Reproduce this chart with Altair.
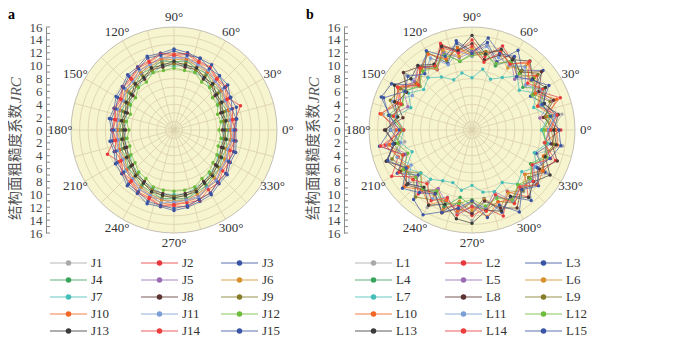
import altair as alt
import pandas as pd

ANGLES = list(range(0, 360, 10))

J1 = [8.3,8.7,8.6,9.0,9.2,9.9,10.0,10.8,10.8,11.2,10.7,10.7,10.0,9.8,9.1,9.0,8.5,8.7,8.3,8.7,8.6,9.1,9.2,9.9,10.0,10.7,10.8,11.1,10.8,10.7,10.0,9.8,9.2,9.0,8.6,8.7]
J2 = [9.3,9.7,11.0,9.8,10.5,10.5,11.3,11.4,12.1,11.8,12.1,11.4,11.3,10.5,10.4,9.7,9.9,9.4,9.6,9.5,11.0,9.8,10.5,10.6,11.3,11.4,12.0,11.8,12.1,11.4,11.3,10.5,10.5,9.7,9.8,9.4]
J3 = [9.6,9.9,10.3,10.1,10.9,11.0,11.7,11.8,12.2,12.6,12.1,12.2,11.3,11.2,10.5,10.4,9.9,10.2,9.7,10.1,9.9,10.5,10.6,11.3,11.4,12.2,12.1,12.5,12.2,11.8,11.6,10.9,10.8,10.1,10.2,9.8]
J4 = [8.5,8.2,8.7,8.5,9.3,9.3,10.1,10.2,10.9,10.6,10.9,10.2,10.1,9.3,9.3,8.5,8.7,8.2,8.5,8.3,8.7,8.6,9.2,9.4,10.0,10.3,10.8,10.7,10.8,10.3,10.0,9.4,9.2,8.6,8.6,8.3]
J5 = [8.7,9.1,8.9,9.3,9.5,10.1,10.3,11.0,11.1,11.4,11.1,11.0,10.2,10.1,9.5,9.4,8.9,9.0,8.7,9.0,8.9,9.3,9.5,10.2,10.3,11.0,11.0,11.4,11.0,11.0,10.3,10.1,9.5,9.3,8.9,9.0]
J6 = [8.8,8.5,9.0,8.9,9.6,9.6,10.4,10.5,11.2,10.9,11.2,10.5,10.4,9.6,9.6,8.8,9.0,8.5,8.8,8.6,9.0,8.8,9.6,9.7,10.3,10.6,11.1,11.0,11.1,10.6,10.3,9.7,9.3,9.1,8.6,8.9]
J7 = [7.8,7.5,8.0,7.8,8.6,8.6,9.4,9.5,10.2,9.9,10.2,9.5,9.4,8.6,8.6,7.8,8.0,7.5,7.8,7.6,8.0,7.9,8.5,8.7,9.3,9.6,10.1,10.0,10.1,9.6,9.3,8.7,8.5,7.9,7.9,7.6]
J8 = [7.5,7.9,7.7,8.3,8.3,9.1,9.1,10.0,9.9,10.4,9.9,10.0,9.1,9.1,8.3,8.3,7.7,8.0,7.5,7.9,7.8,8.2,8.4,9.0,9.2,9.9,10.0,10.3,10.0,9.9,9.2,9.0,8.4,8.2,7.8,7.9]
J9 = [8.1,7.8,8.3,8.1,8.9,8.9,9.7,9.8,10.5,10.2,10.5,9.8,9.7,8.9,8.9,8.1,8.3,7.8,8.1,7.9,8.3,8.2,8.8,9.0,9.6,9.9,10.4,10.3,10.4,9.9,9.6,9.0,8.8,8.2,8.2,7.9]
J10 = [8.8,9.3,9.1,9.5,9.7,10.4,10.5,11.2,11.3,11.7,11.3,11.0,10.7,10.1,9.9,9.3,9.3,9.0,8.9,9.2,9.1,9.6,9.7,10.3,10.7,11.0,11.5,11.6,11.3,11.2,10.4,10.3,9.7,9.5,9.1,9.2]
J11 = [9.1,8.8,9.3,9.1,9.9,9.9,10.7,10.8,11.5,11.2,11.5,10.8,10.7,9.9,9.9,9.1,9.3,8.8,9.1,8.8,9.3,9.1,9.9,9.9,10.7,10.8,11.5,11.2,11.1,11.2,10.3,10.3,9.5,9.5,8.9,9.2]
J12 = [7.0,7.4,7.2,7.8,7.8,8.6,8.6,9.5,9.4,9.6,9.4,9.5,8.6,8.6,7.8,7.8,7.2,7.5,7.0,7.4,7.3,7.7,7.9,8.5,8.7,9.4,9.5,9.5,9.5,9.4,8.7,8.5,7.9,7.7,7.3,7.4]
J13 = [7.8,8.2,8.0,8.6,8.6,9.4,9.4,10.3,10.2,10.7,10.2,10.3,9.4,9.4,8.6,8.6,8.0,8.3,7.8,8.2,8.1,8.5,8.7,9.3,9.5,10.2,10.3,10.6,10.3,10.2,9.5,9.3,8.7,8.5,8.1,8.2]
J14 = [9.5,9.2,9.7,9.5,10.3,10.3,11.1,11.2,11.9,11.6,11.9,11.2,11.1,10.3,10.3,9.5,9.7,9.2,9.5,9.2,9.7,9.5,10.3,10.3,11.1,11.2,11.9,11.6,11.5,11.6,10.7,10.7,9.9,9.9,9.3,9.6]
J15 = [9.4,9.8,9.6,10.2,10.3,11.0,11.0,11.9,11.8,12.3,11.8,11.9,11.0,10.9,10.2,10.1,9.6,9.9,9.4,9.8,9.6,10.2,10.2,11.0,11.1,11.8,11.9,12.2,11.9,11.5,11.3,10.6,10.5,9.8,9.9,9.5]

L1 = [12.5,14.2,11.0,13.1,10.8,12.9,11.5,13.8,10.9,12.4,13.6,11.2,12.8,10.7,13.5,11.9,12.2,14.0,12.0,10.6,13.3,11.4,12.7,10.5,13.9,11.8,12.6,14.1,11.3,13.0,10.9,12.5,11.7,13.6,10.8,14.3]
L2 = [13.8,11.2,14.6,12.0,13.2,10.9,12.4,13.9,11.6,14.0,12.3,13.5,10.8,12.9,11.5,13.4,12.1,14.5,11.0,13.7,12.2,14.4,11.3,13.0,10.6,12.8,11.9,13.3,12.4,14.2,11.1,13.6,10.7,12.7,13.8,11.4]
L3 = [11.8,13.3,12.0,10.5,14.4,12.1,14.3,11.3,13.8,12.2,14.1,11.0,13.9,12.5,10.7,14.4,15.0,13.0,12.7,14.6,11.2,13.4,10.9,14.1,15.2,13.5,11.4,12.9,10.8,13.6,12.0,14.3,11.5,13.1,10.6,12.4]
L4 = [10.9,12.6,11.4,12.9,10.3,11.8,12.7,10.6,12.3,11.9,10.8,12.8,11.3,12.6,10.5,12.1,11.6,13.2,10.7,12.4,11.5,13.0,10.4,12.2,11.1,12.7,10.6,11.8,12.5,10.9,12.8,11.2,12.4,10.5,12.0,11.7]
L5 = [12.0,10.7,13.1,11.6,12.5,10.3,12.2,11.0,13.3,12.1,11.4,12.8,10.9,13.0,11.7,12.3,10.6,12.9,11.8,13.4,10.8,12.1,11.3,12.6,10.5,11.9,12.7,11.1,12.4,10.2,12.8,11.6,13.1,10.9,12.3,11.5]
L6 = [11.5,12.8,10.8,12.2,11.9,13.0,11.1,12.5,10.9,12.7,11.6,13.2,11.0,12.4,10.6,12.9,11.8,12.3,10.7,13.1,11.5,12.6,10.4,12.0,11.7,13.3,11.2,12.5,10.9,12.8,11.3,12.1,10.8,12.6,11.9,13.0]
L7 = [10.8,12.1,10.2,11.5,9.6,10.9,9.4,8.4,9.6,8.1,9.0,8.3,9.5,10.6,9.8,11.4,10.1,12.0,10.6,11.3,9.9,11.8,10.4,10.0,9.1,8.7,9.5,8.6,9.8,10.2,9.4,11.0,10.1,11.6,10.3,11.9]
L8 = [12.9,11.3,13.5,12.0,14.1,11.6,13.0,12.3,11.1,13.4,12.6,14.0,11.5,12.8,13.9,11.7,12.5,10.9,13.6,12.2,14.2,11.8,13.3,12.0,11.4,13.7,12.4,13.0,11.2,12.9,14.0,11.9,13.2,12.1,14.1,12.6]
L9 = [12.3,11.6,12.9,11.1,13.4,12.0,11.7,13.1,12.4,11.9,13.0,11.5,13.8,12.2,11.3,12.8,13.5,11.8,12.6,11.4,13.2,12.1,11.9,13.6,12.5,11.6,12.9,11.2,12.7,11.8,13.1,12.3,11.5,12.8,11.9,13.0]
L10 = [13.1,12.0,14.0,11.4,12.7,13.5,11.9,13.0,12.2,11.5,12.9,11.8,13.6,12.4,11.1,13.2,12.6,14.3,11.7,13.0,12.3,11.5,13.8,12.1,13.4,11.6,12.8,12.0,13.7,11.9,12.5,11.3,13.3,12.7,11.8,13.5]
L11 = [11.9,13.0,11.3,12.4,10.9,12.8,11.6,12.0,13.2,11.4,12.5,10.8,12.9,11.5,12.2,10.7,13.1,11.9,12.6,11.2,12.4,10.9,13.0,11.7,12.3,11.1,13.3,11.8,12.1,11.0,12.7,11.6,12.2,11.3,12.9,11.5]
L12 = [11.2,12.2,11.7,10.8,12.5,11.4,12.3,11.0,12.0,11.6,10.9,12.4,11.3,11.9,10.7,12.1,11.5,12.6,11.0,11.8,10.6,12.3,11.4,11.9,10.9,12.2,11.6,10.8,12.0,11.3,12.5,11.1,11.8,10.7,12.4,11.6]
L13 = [12.7,13.6,11.9,13.2,12.3,14.0,12.6,13.3,12.0,14.7,12.5,13.8,11.8,13.1,12.4,13.9,12.8,11.7,13.4,12.2,14.1,12.9,13.0,11.6,13.5,12.3,14.0,14.5,12.7,13.4,11.9,13.7,12.5,14.0,12.1,13.3]
L14 = [12.2,13.4,10.9,12.7,11.3,13.9,11.8,12.9,10.7,13.0,12.1,14.3,11.5,12.6,10.8,13.3,11.7,12.4,10.6,14.4,11.4,13.1,12.0,10.9,12.7,11.2,13.4,11.9,12.8,10.7,13.2,11.6,12.4,10.8,13.0,11.5]
L15 = [13.5,12.4,11.6,13.8,12.1,10.8,13.2,12.6,14.5,11.9,13.7,12.2,14.2,11.4,13.0,12.0,14.6,13.1,11.3,12.5,13.9,11.8,14.1,12.7,11.5,13.6,12.3,11.0,13.8,12.4,14.7,12.1,13.5,11.7,12.9,14.0]

J_NAMES = ["J1","J2","J3","J4","J5","J6","J7","J8","J9","J10","J11","J12","J13","J14","J15"]
L_NAMES = ["L1","L2","L3","L4","L5","L6","L7","L8","L9","L10","L11","L12","L13","L14","L15"]
J_VALUES = [J1,J2,J3,J4,J5,J6,J7,J8,J9,J10,J11,J12,J13,J14,J15]
L_VALUES = [L1,L2,L3,L4,L5,L6,L7,L8,L9,L10,L11,L12,L13,L14,L15]
COLORS = ["#a9a9a9","#e8383d","#3953a4","#3aa35b","#9b6bb3","#d5922c","#45bdb8","#5c3333",
          "#857c27","#f26522","#7b9ed6","#6dbb3a","#3a3a3a","#ec3c3c","#3a55a3"]

RING_RADII = [1.333,2.667,4.0,5.333,6.667,8.0,9.333,10.667,12.0,13.333,14.667]
SPOKE_ANGLES = list(range(0, 360, 15))
LABEL_ANGLES = list(range(0, 360, 30))
LABEL_TEXT = ["0°","30°","60°","90°","120°","150°","180°","210°","240°","270°","300°","330°"]
Y_LABELS = list(range(-16, 17, 2))
Y_TICKS = list(range(-16, 17))

W = 206
RMAX = 16
AX_OFF = 25
FONT = "Liberation Serif, Times New Roman, serif"
PPU = W / (2 * RMAX)          # pixels per JRC unit
LEG_TOP = 236                 # px below plot top of first legend row
LEG_ROW = 17                  # px between legend rows
LEG_LINE = 37                 # px length of legend line sample


def panel(names, values, letter, leg_cols):
    for v in values:
        assert len(v) == len(ANGLES)
    rows = []
    for n, vals in zip(names, values):
        for a, v in zip(ANGLES, vals):
            rows.append({"series": n, "angle": a, "jrc": v})
    df = pd.DataFrame(rows)

    xs = alt.Scale(domain=[-RMAX, RMAX], nice=False, zero=False)
    ys = alt.Scale(domain=[-RMAX, RMAX], nice=False, zero=False)
    cs = alt.Scale(domain=names, range=COLORS)
    yax = alt.Axis(
        values=Y_LABELS, labelExpr="format(abs(datum.value), 'd')",
        offset=AX_OFF, ticks=False, labelPadding=4, grid=False, title=None,
        domainColor="#8a8a8a", labelColor="#444444",
        labelFont=FONT, labelFontSize=13, labelOverlap=False,
    )

    def X(f):
        return alt.X(f, type="quantitative", scale=xs, axis=None)

    def Y(f):
        return alt.Y(f, type="quantitative", scale=ys, axis=yax)

    circ_expr = f"pow(2*datum.r*{PPU}, 2)"

    bg = alt.Chart(pd.DataFrame({"r": [RMAX]})).transform_calculate(
        cx="0", cy="0", s=circ_expr
    ).mark_point(shape="circle", filled=True, fill="#f7f4d0", stroke="#c4c1b4",
                 strokeWidth=1, opacity=1).encode(
        x=X("cx"), y=Y("cy"), size=alt.Size("s:Q", scale=None, legend=None)
    )

    rings = alt.Chart(pd.DataFrame({"r": RING_RADII})).transform_calculate(
        cx="0", cy="0", s=circ_expr
    ).mark_point(shape="circle", filled=False, stroke="#dbd1ab", strokeWidth=0.8,
                 opacity=1).encode(
        x=X("cx"), y=Y("cy"), size=alt.Size("s:Q", scale=None, legend=None)
    )

    spokes = alt.Chart(pd.DataFrame({"a": SPOKE_ANGLES})).transform_calculate(
        x0="0", y0="0",
        x1=f"{RMAX}*cos(datum.a*PI/180)", y1=f"{RMAX}*sin(datum.a*PI/180)",
    ).mark_rule(color="#dbd1ab", strokeWidth=0.8).encode(
        x=X("x0"), y=Y("y0"), x2="x1:Q", y2="y1:Q"
    )

    ticks = alt.Chart(pd.DataFrame({"v": Y_TICKS})).mark_rule(
        color="#8a8a8a", strokeWidth=1
    ).encode(x=alt.value(-AX_OFF), x2=alt.value(-AX_OFF + 4), y=Y("v"))

    labels = alt.Chart(pd.DataFrame({"a": LABEL_ANGLES, "t": LABEL_TEXT})).transform_calculate(
        lx="17.7*cos(datum.a*PI/180)", ly="17.5*sin(datum.a*PI/180)"
    ).mark_text(font=FONT, fontSize=13, color="#333333", align="center", baseline="middle").encode(
        x=X("lx"), y=Y("ly"), text="t:N"
    )

    base = alt.Chart(df).transform_calculate(
        px="datum.jrc*cos(datum.angle*PI/180)", py="datum.jrc*sin(datum.angle*PI/180)",
    )
    lines = base.mark_line(strokeWidth=0.9, opacity=0.75, interpolate="linear-closed").encode(
        x=X("px"), y=Y("py"),
        stroke=alt.Stroke("series:N", scale=cs, legend=None),
        order=alt.Order("angle:Q"),
    )
    pts = base.mark_point(filled=True, size=12, opacity=1).encode(
        x=X("px"), y=Y("py"),
        fill=alt.Fill("series:N", scale=cs, legend=None),
    )

    # legend drawn with the same scales (3 columns x 5 rows)
    leg_df = pd.DataFrame({
        "series": names,
        "colpx": [leg_cols[i % 3] for i in range(len(names))],
        "row": [i // 3 for i in range(len(names))],
    })
    leg = alt.Chart(leg_df).transform_calculate(
        lx0=f"-{RMAX} + datum.colpx/{PPU}",
        lx1=f"-{RMAX} + (datum.colpx + {LEG_LINE})/{PPU}",
        lxm=f"-{RMAX} + (datum.colpx + {LEG_LINE / 2})/{PPU}",
        lxt=f"-{RMAX} + (datum.colpx + {LEG_LINE + 4})/{PPU}",
        ly=f"{RMAX} - ({LEG_TOP} + {LEG_ROW}*datum.row)/{PPU}",
    )
    leg_line = leg.mark_rule(strokeWidth=1.6, opacity=0.55).encode(
        x=X("lx0"), x2="lx1:Q", y=Y("ly"),
        stroke=alt.Stroke("series:N", scale=cs, legend=None),
    )
    leg_dot = leg.mark_point(filled=True, size=30, opacity=1).encode(
        x=X("lxm"), y=Y("ly"), fill=alt.Fill("series:N", scale=cs, legend=None),
    )
    leg_txt = leg.mark_text(font=FONT, fontSize=13, color="#333333", align="left",
                            baseline="middle").encode(
        x=X("lxt"), y=Y("ly"), text="series:N"
    )

    title_cn = alt.Chart(pd.DataFrame({"t": ["结构面粗糙度系数"]})).mark_text(
        angle=270, align="left", baseline="middle", font="Noto Sans CJK SC",
        fontSize=14.5, color="#555555"
    ).encode(x=alt.value(-55), y=alt.value(193), text="t:N")
    title_en = alt.Chart(pd.DataFrame({"t": ["JRC"]})).mark_text(
        angle=270, align="left", baseline="middle", font=FONT, fontStyle="italic",
        fontSize=15, color="#555555"
    ).encode(x=alt.value(-55), y=alt.value(76), text="t:N")
    tag = alt.Chart(pd.DataFrame({"t": [letter]})).mark_text(
        align="left", baseline="top", font=FONT, fontWeight="bold", fontSize=14, color="#000000"
    ).encode(x=alt.value(-63), y=alt.value(-19), text="t:N")

    return alt.layer(bg, rings, spokes, ticks, labels, lines, pts,
                     leg_line, leg_dot, leg_txt, title_cn, title_en, tag).properties(
        width=W, height=W
    )


pa = panel(J_NAMES, J_VALUES, "a", [-21, 70, 150])
pb = panel(L_NAMES, L_VALUES, "b", [-14, 76, 156])

chart = alt.hconcat(pa, pb, spacing=92, bounds="flush").resolve_scale(
    fill="independent", stroke="independent"
).configure_view(stroke=None).properties(
    padding=0, background="white"
)

chart.save("out.html", embed_options={"renderer": "svg", "actions": False})
